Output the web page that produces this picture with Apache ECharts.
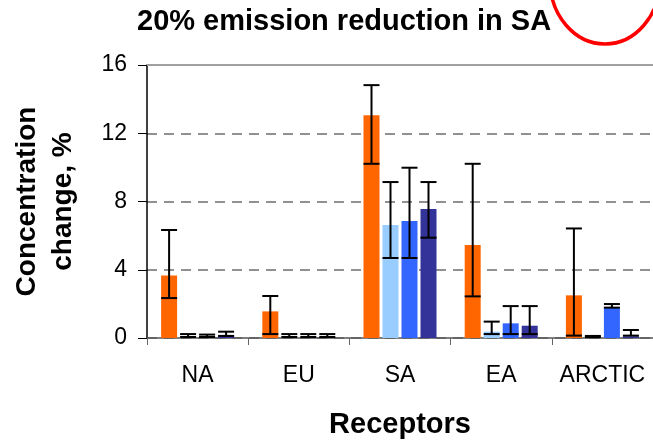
<!DOCTYPE html>
<html>
<head>
<meta charset="utf-8">
<script src="https://cdn.jsdelivr.net/npm/echarts@6/dist/echarts.min.js"></script>
<style>html,body{margin:0;padding:0;background:#fff;}#c{width:653px;height:444px;}</style>
</head>
<body>
<div id="c"></div>
<script>
var categories = ['NA', 'EU', 'SA', 'EA', 'ARCTIC'];
var yTicks = [0, 4, 8, 12, 16];

var seriesNames = ['Series 1', 'Series 2', 'Series 3', 'Series 4'];
var seriesColors = ['#FF6600', '#99CCFF', '#3366FF', '#333399'];

var s1Values = [3.67, 1.56, 13.06, 5.45, 2.5];
var s2Values = [0.08, 0.05, 6.62, 0.37, 0.05];
var s3Values = [0.1, 0.05, 6.85, 0.86, 1.78];
var s4Values = [0.18, 0.05, 7.56, 0.72, 0.1];

var s1Low = [2.34, 0.23, 10.21, 2.44, 0.14];
var s1High = [6.33, 2.46, 14.82, 10.21, 6.42];
var s2Low = [0.06, 0.06, 4.69, 0.23, 0.05];
var s2High = [0.23, 0.23, 9.14, 0.96, 0.12];
var s3Low = [0.06, 0.06, 4.69, 0.23, 1.78];
var s3High = [0.2, 0.23, 9.98, 1.87, 1.99];
var s4Low = [0.12, 0.06, 5.88, 0.23, 0.14];
var s4High = [0.37, 0.23, 9.14, 1.87, 0.47];

var allValues = [s1Values, s2Values, s3Values, s4Values];
var allLow = [s1Low, s2Low, s3Low, s4Low];
var allHigh = [s1High, s2High, s3High, s4High];

var BAR_W = 16, PITCH = 19;

var series = [];
allValues.forEach(function (vals, i) {
  var s = {
    name: seriesNames[i],
    type: 'bar',
    data: vals,
    barWidth: BAR_W,
    barGap: ((PITCH - BAR_W) / BAR_W * 100) + '%',
    itemStyle: { color: seriesColors[i] },
    z: 2
  };
  if (i === 0) {
    s.markLine = {
      silent: true,
      symbol: 'none',
      label: { show: false },
      lineStyle: { color: '#a0a0a0', width: 2, type: 'solid' },
      data: [{ yAxis: 16 }]
    };
  }
  series.push(s);
});
allValues.forEach(function (vals, i) {
  var d = categories.map(function (c, k) { return [k, allLow[i][k], allHigh[i][k]]; });
  series.push({
    type: 'custom',
    name: seriesNames[i] + ' error',
    z: 5,
    data: d,
    encode: { x: 0, y: [1, 2] },
    renderItem: function (params, api) {
      var off = (i - 1.5) * PITCH;
      var lo = api.coord([api.value(0), api.value(1)]);
      var hi = api.coord([api.value(0), api.value(2)]);
      var x = lo[0] + off;
      var hw = BAR_W / 2;
      var st = { stroke: '#000', lineWidth: 2 };
      return {
        type: 'group',
        children: [
          { type: 'line', shape: { x1: x, y1: lo[1], x2: x, y2: hi[1] }, style: st },
          { type: 'line', shape: { x1: x - hw, y1: lo[1], x2: x + hw, y2: lo[1] }, style: st },
          { type: 'line', shape: { x1: x - hw, y1: hi[1], x2: x + hw, y2: hi[1] }, style: st }
        ]
      };
    }
  });
});

var chart = echarts.init(document.getElementById('c'), null, { renderer: 'canvas' });
chart.setOption({
  animation: false,
  backgroundColor: '#fff',
  title: {
    text: '20% emission reduction in SA',
    left: 132,
    top: 2,
    textStyle: { fontFamily: 'Liberation Sans, Arial', fontSize: 29, fontWeight: 'bold', color: '#000' }
  },
  graphic: [{
    type: 'ellipse',
    shape: { cx: 605, cy: -20, rx: 55, ry: 64 },
    style: { fill: 'none', stroke: '#ff0000', lineWidth: 3.5 },
    z: 10
  }],
  grid: { left: 147, top: 65, width: 508, bottom: 106, containLabel: false },
  xAxis: {
    type: 'category',
    data: categories,
    name: 'Receptors',
    nameLocation: 'middle',
    nameGap: 72,
    nameTextStyle: { fontFamily: 'Liberation Sans, Arial', fontSize: 29, fontWeight: 'bold', color: '#000' },
    axisLine: { lineStyle: { color: '#555', width: 1.5 } },
    axisTick: { show: true, length: 7, interval: 0, lineStyle: { color: '#666' } },
    axisLabel: { interval: 0, margin: 26, fontFamily: 'Liberation Sans, Arial', fontSize: 23, color: '#000' }
  },
  yAxis: {
    type: 'value',
    min: 0, max: 16, interval: 4,
    name: 'Concentration\nchange, %',
    nameLocation: 'middle',
    nameRotate: 90,
    nameGap: 66,
    nameTextStyle: { fontFamily: 'Liberation Sans, Arial', fontSize: 28, fontWeight: 'bold', color: '#000', lineHeight: 36 },
    axisLine: { show: true, lineStyle: { color: '#000', width: 1.5 } },
    axisTick: { show: true, inside: false, length: 9, lineStyle: { color: '#000' } },
    axisLabel: {
      margin: 20, fontFamily: 'Liberation Sans, Arial', fontSize: 23, color: '#000',
      formatter: function (v) { return yTicks.indexOf(v) >= 0 ? String(v) : ''; }
    },
    splitLine: { show: true, lineStyle: { color: '#6e6e6e', width: 1.5, type: [10, 7] } }
  },
  series: series
});
</script>
</body>
</html>
